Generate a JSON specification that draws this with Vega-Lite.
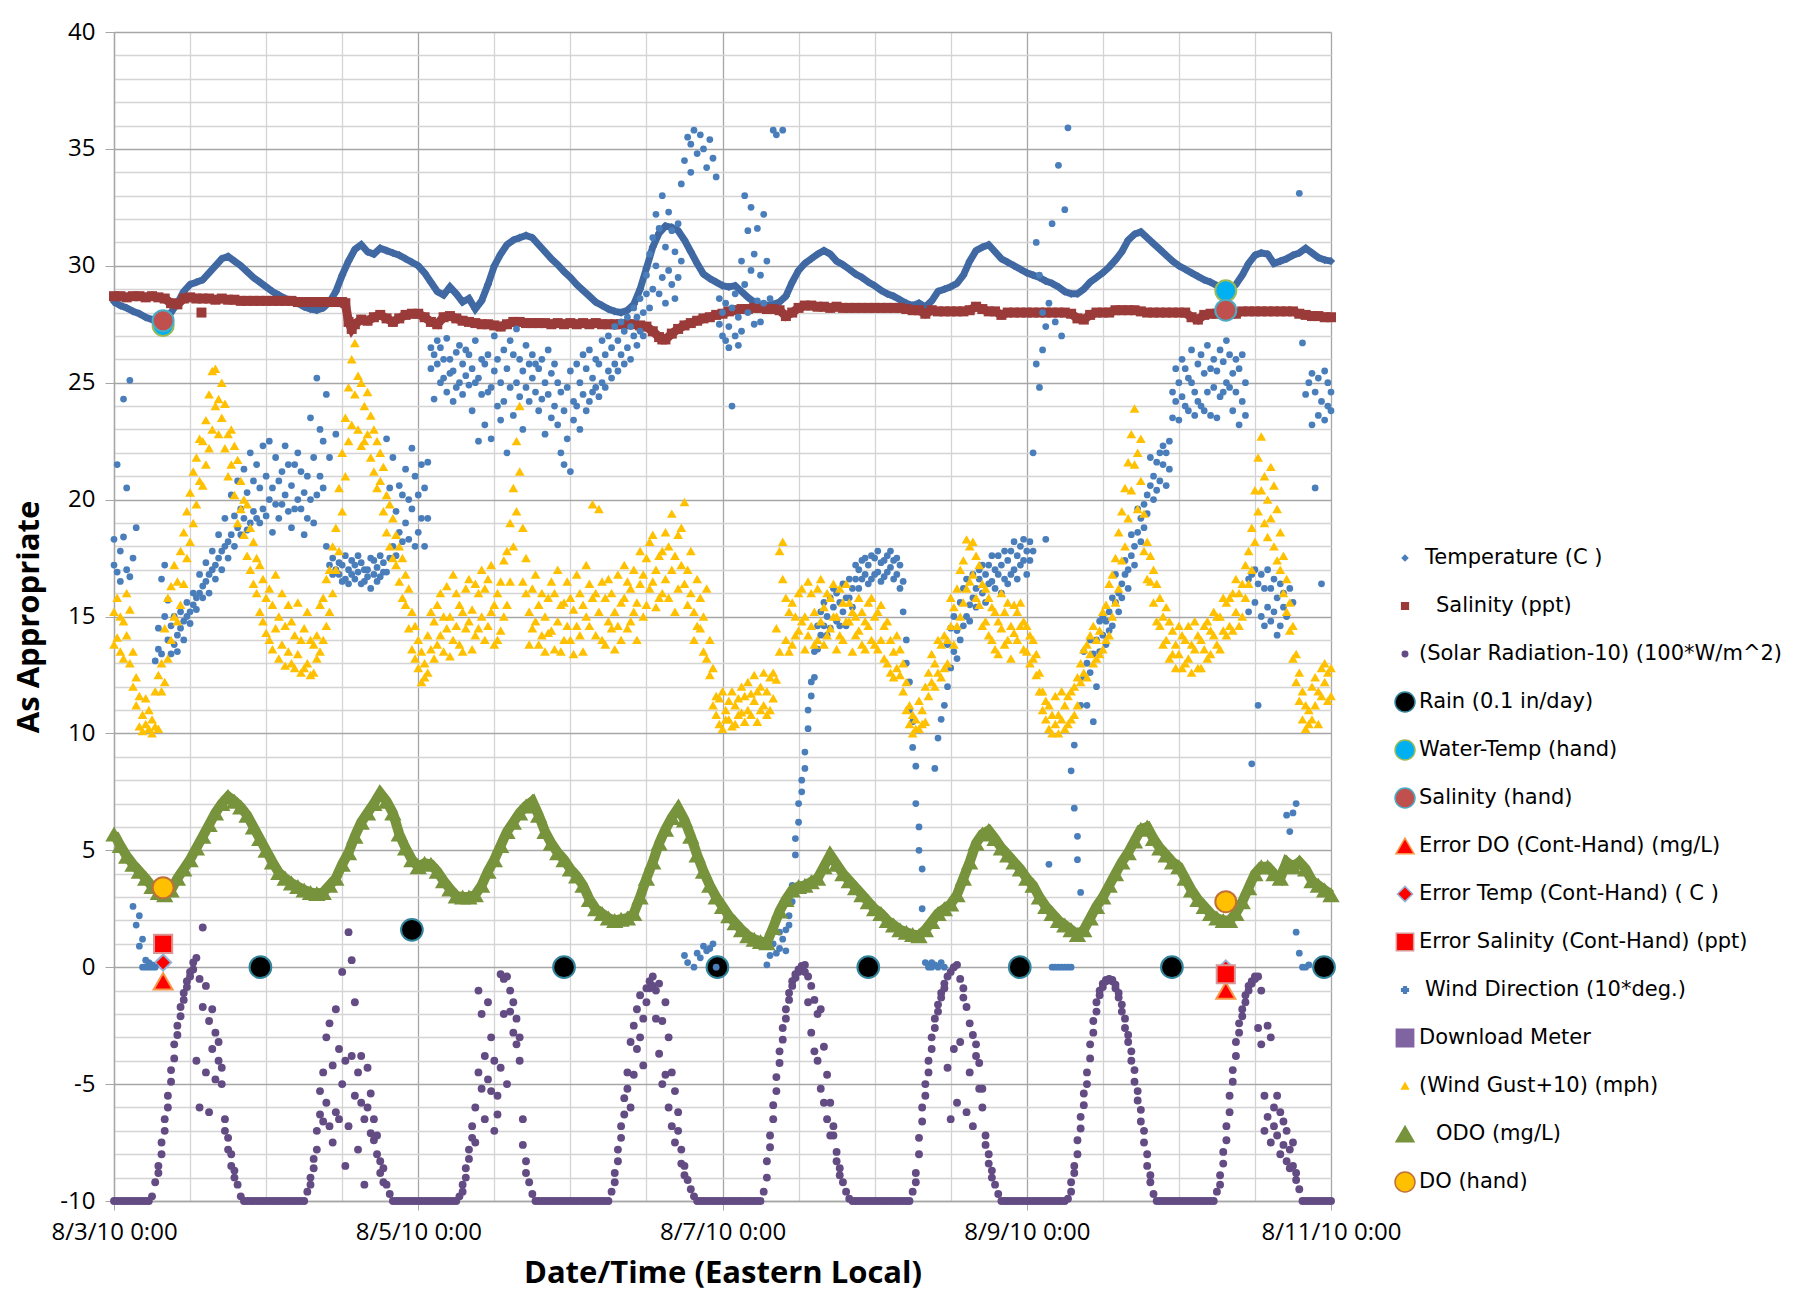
{
"$schema": "https://vega.github.io/schema/vega-lite/v6.json",
"autosize": {"type": "none"},
"padding": {"left": 114, "top": 32, "right": 464, "bottom": 99},
"width": 1217,
"height": 1169,
"background": "white",
"config": {
 "view": {"stroke": null},
 "legend": {"orient": "none", "legendX": 1291, "legendY": 526, "title": null, "labelFont": "DejaVu Sans", "labelFontSize": 21, "labelColor": "#000000", "rowPadding": 22, "gridAlign": "all", "symbolSize": 400, "symbolStrokeWidth": 1.5, "labelOffset": 23, "padding": 0, "labelLimit": 600}
},
"datasets": {
"d": [
{"h":0,"T":28.45,"S":28.7,"O":5.7,"R":-10,"G":15.2,"g":13.8,"W":17.2,"w":18.3},
{"h":0.5,"R":-10,"G":14.1,"g":15.8,"W":16.9,"w":21.5},
{"h":1,"T":28.3,"S":28.7,"O":5.2,"R":-10,"G":13.5,"g":15.0,"W":17.8,"w":16.5},
{"h":1.5,"R":-10,"G":14.8,"g":13.2,"W":18.4,"w":24.3},
{"h":2,"T":28.2,"S":28.65,"O":4.75,"R":-10,"G":16.0,"g":14.2,"W":17.0,"w":20.5},
{"h":2.5,"R":-10,"G":15.3,"g":13.0,"W":16.7,"w":25.1},
{"h":3,"T":28.05,"S":28.7,"O":4.4,"R":-10,"G":12.0,"g":13.5,"W":17.5,"w":2.6},
{"h":3.5,"R":-10,"G":11.2,"g":12.4,"W":18.8,"w":1.8},
{"h":4,"T":27.95,"S":28.7,"O":4.1,"R":-10,"G":10.3,"g":11.6,"W":2.2,"w":0.9},
{"h":4.5,"R":-10,"G":10.8,"g":10.1,"W":1.2,"w":0.0},
{"h":5,"T":27.8,"S":28.65,"O":3.8,"R":-10,"G":11.5,"g":10.4,"W":0.3,"w":0.0},
{"h":5.5,"R":-10,"G":10.2,"g":11.0,"W":0.0,"w":0.2},
{"h":6,"T":27.7,"S":28.7,"O":3.45,"R":-9.8,"G":10.6,"g":10.0,"W":0.1,"w":0.0},
{"h":6.5,"R":-9.2,"G":11.8,"g":10.3,"W":0.0,"w":13.1},
{"h":7,"T":27.65,"S":28.65,"O":3.2,"R":-8.5,"r":-8.8,"G":12.5,"g":10.2,"W":14.5,"w":13.6},
{"h":7.5,"R":-7.5,"r":-8.0,"G":13.0,"g":11.8,"W":16.6,"w":13.4},
{"h":8,"T":27.7,"S":28.6,"O":3.1,"R":-6.5,"r":-7.0,"G":14.5,"g":12.2,"W":15.0,"w":17.2},
{"h":8.5,"R":-5.5,"r":-6.0,"G":13.2,"g":15.8,"W":14.0,"w":15.7},
{"h":9,"T":28.0,"S":28.4,"O":3.3,"R":-4.4,"r":-4.9,"G":16.3,"g":14.0,"W":13.4,"w":14.6},
{"h":9.5,"R":-3.3,"r":-3.9,"G":15.0,"g":17.2,"W":13.8,"w":15.0},
{"h":10,"T":28.4,"S":28.35,"O":3.8,"R":-2.5,"r":-2.9,"G":16.5,"g":14.8,"W":14.2,"w":13.5},
{"h":10.5,"R":-1.7,"r":-2.1,"G":17.8,"g":15.5,"W":14.5,"w":15.2},
{"h":11,"T":28.9,"S":28.6,"O":4.2,"R":-1.1,"r":-1.4,"G":18.6,"g":16.4,"W":14.8,"w":14.0},
{"h":11.5,"R":-0.6,"r":-0.85,"G":17.5,"g":19.5,"W":15.0,"w":15.6},
{"h":12,"T":29.2,"S":28.65,"O":4.6,"R":-0.2,"r":-0.4,"G":20.3,"g":18.2,"W":15.2,"w":14.7},
{"h":12.5,"R":0.2,"r":-0.1,"G":19.0,"g":21.2,"W":15.5,"w":16.0},
{"h":13,"T":29.3,"S":28.6,"O":5.1,"R":0.4,"r":-4.0,"G":21.8,"g":19.8,"W":15.8,"w":15.3},
{"h":13.5,"R":-0.5,"r":-6.0,"G":20.8,"g":22.6,"W":16.0,"w":16.8},
{"h":13.8,"s":28.0},
{"h":14,"T":29.4,"S":28.6,"O":5.6,"R":-1.7,"r":1.7,"G":22.5,"g":20.6,"W":16.3,"w":15.8},
{"h":14.5,"R":-0.8,"r":-4.5,"G":23.4,"g":21.5,"W":16.5,"w":17.3},
{"h":15,"T":29.7,"S":28.6,"O":6.1,"R":-2.3,"r":-6.2,"G":24.5,"g":22.2,"W":16.8,"w":16.0},
{"h":15.5,"R":-3.5,"r":-1.8,"G":23.0,"g":25.5,"W":17.0,"w":17.8},
{"h":16,"T":30.0,"S":28.55,"O":6.6,"R":-2.8,"r":-4.8,"G":25.6,"g":24.0,"W":17.2,"w":16.6},
{"h":16.5,"R":-4.0,"r":-3.2,"G":24.3,"g":22.8,"W":17.5,"w":18.5},
{"h":17,"T":30.3,"S":28.6,"O":7.0,"R":-5.0,"r":-4.3,"G":23.5,"g":25.0,"W":17.8,"w":17.0},
{"h":17.5,"R":-6.5,"r":-7.0,"G":22.2,"g":24.1,"W":18.0,"w":19.2},
{"h":18,"T":30.4,"S":28.55,"O":7.3,"R":-7.3,"r":-7.8,"G":22.8,"g":21.0,"W":18.2,"w":17.5},
{"h":18.5,"R":-8.0,"r":-8.5,"G":21.5,"g":23.0,"W":18.5,"w":20.2},
{"h":19,"T":30.2,"S":28.55,"O":7.1,"R":-8.7,"r":-9.0,"G":20.2,"g":22.3,"W":18.0,"w":19.3},
{"h":19.5,"R":-9.3,"G":21.7,"g":19.0,"W":18.8,"w":20.8},
{"h":20,"T":30.0,"S":28.5,"O":6.85,"R":-9.8,"G":19.6,"g":20.8,"W":18.5,"w":19.6},
{"h":20.5,"R":-10,"G":18.5,"g":20.0,"W":19.2,"w":21.3},
{"h":21,"T":29.75,"S":28.5,"O":6.5,"R":-10,"G":19.8,"g":17.6,"W":18.7,"w":20.3},
{"h":21.5,"R":-10,"G":17.0,"g":18.8,"W":19.0,"w":22.0},
{"h":22,"T":29.5,"S":28.5,"O":6.0,"R":-10,"G":18.2,"g":16.4,"W":19.5,"w":20.8},
{"h":22.5,"R":-10,"G":16.0,"g":17.5,"W":19.2,"w":21.5},
{"h":23,"T":29.3,"S":28.5,"O":5.5,"R":-10,"G":15.2,"g":17.2,"W":19.0,"w":20.5},
{"h":23.5,"R":-10,"G":16.6,"g":14.8,"W":19.6,"w":22.3},
{"h":24,"T":29.1,"S":28.5,"O":5.0,"R":-10,"G":15.8,"g":14.3,"W":19.3,"w":21.0},
{"h":24.5,"R":-10,"G":14.0,"g":16.2,"W":20.0,"w":22.5},
{"h":25,"T":28.9,"S":28.5,"O":4.5,"R":-10,"G":15.5,"g":13.6,"W":20.5,"w":18.6},
{"h":25.5,"R":-10,"G":16.8,"g":14.5,"W":19.8,"w":21.8},
{"h":26,"T":28.75,"S":28.5,"O":4.05,"R":-10,"G":15.0,"g":13.2,"W":20.8,"w":19.2},
{"h":26.5,"R":-10,"G":13.8,"g":16.0,"W":21.2,"w":19.8},
{"h":27,"T":28.6,"S":28.5,"O":3.8,"R":-10,"G":14.6,"g":12.9,"W":20.2,"w":22.3},
{"h":27.5,"R":-10,"G":15.5,"g":13.5,"W":19.5,"w":21.5},
{"h":28,"T":28.5,"S":28.5,"O":3.6,"R":-10,"G":13.0,"g":14.8,"W":20.6,"w":18.8},
{"h":28.5,"R":-10,"G":14.2,"g":12.8,"W":21.5,"w":19.6},
{"h":29,"T":28.4,"S":28.45,"O":3.45,"R":-10,"G":13.4,"g":15.6,"W":20.0,"w":22.0},
{"h":29.5,"R":-10,"G":12.6,"g":14.0,"W":19.6,"w":21.2},
{"h":30,"T":28.25,"S":28.45,"O":3.3,"R":-10,"G":14.5,"g":12.8,"W":20.3,"w":18.5},
{"h":30.5,"R":-9.6,"G":13.0,"g":15.2,"W":21.0,"w":19.2},
{"h":31,"T":28.15,"S":28.45,"O":3.2,"R":-9.0,"r":-9.3,"G":12.5,"g":14.0,"W":20.0,"w":23.5},
{"h":31.5,"R":-8.2,"r":-8.6,"G":13.8,"g":12.6,"W":19.0,"w":21.8},
{"h":32,"T":28.1,"S":28.45,"O":3.15,"R":-7.0,"r":-7.8,"G":14.2,"g":13.2,"W":20.2,"w":25.2},
{"h":32.5,"R":-5.3,"r":-6.3,"G":13.5,"g":15.5,"W":21.0,"w":23.0},
{"h":33,"T":28.2,"S":28.45,"O":3.2,"R":-4.5,"r":-6.6,"G":15.8,"g":14.0,"W":20.5,"w":22.5},
{"h":33.5,"R":-3.0,"r":-5.8,"G":14.6,"g":16.6,"W":18.0,"w":24.5},
{"h":34,"T":28.45,"S":28.45,"O":3.5,"R":-6.8,"r":-2.4,"G":17.0,"g":15.2,"W":17.2,"w":21.8},
{"h":34.5,"R":-4.2,"r":-7.5,"G":16.0,"g":18.0,"W":17.5,"w":16.8},
{"h":35,"T":28.9,"S":28.45,"O":3.8,"R":-1.8,"r":-6.2,"G":18.8,"g":17.0,"W":17.0,"w":22.8},
{"h":35.5,"R":-6.5,"r":-3.5,"G":20.5,"g":17.8,"W":16.8,"w":17.3},
{"h":36,"T":29.6,"S":28.45,"O":4.4,"R":-0.2,"r":-5.0,"G":22.0,"g":19.5,"W":17.2,"w":16.5},
{"h":36.5,"S":28.4,"R":-4.0,"r":-8.5,"G":23.5,"g":21.0,"W":16.6,"w":17.6},
{"h":37,"T":30.2,"S":27.6,"O":4.9,"R":-6.8,"r":1.5,"G":24.8,"g":22.5,"W":17.0,"w":16.4},
{"h":37.5,"S":27.3,"R":0.3,"r":-3.8,"G":26.0,"g":23.2,"W":17.4,"w":16.8},
{"h":38,"T":30.7,"S":27.5,"O":5.6,"R":-1.5,"r":-5.5,"G":24.5,"g":26.7,"W":16.6,"w":17.2},
{"h":38.5,"R":-4.5,"r":-7.8,"G":23.0,"g":25.3,"W":16.9,"w":17.6},
{"h":39,"T":30.9,"S":27.7,"O":6.2,"R":-5.8,"r":-3.8,"G":25.0,"g":22.3,"W":17.3,"w":16.4},
{"h":39.5,"R":-6.5,"r":-9.3,"G":24.0,"g":22.5,"W":16.5,"w":17.0},
{"h":40,"T":30.6,"S":27.65,"O":6.6,"R":-4.3,"r":-6.0,"G":22.8,"g":24.6,"W":17.0,"w":16.7},
{"h":40.5,"R":-5.4,"r":-7.1,"G":23.6,"g":21.8,"W":17.5,"w":16.2},
{"h":41,"T":30.5,"S":27.8,"O":7.0,"R":-7.4,"r":-6.5,"G":21.2,"g":23.0,"W":16.8,"w":17.4},
{"h":41.5,"R":-8.0,"r":-7.2,"G":22.5,"g":20.5,"W":17.1,"w":16.5},
{"h":42,"T":30.75,"S":27.9,"O":7.45,"R":-8.3,"r":-8.8,"G":20.8,"g":22.0,"W":16.7,"w":17.6},
{"h":42.5,"R":-8.6,"r":-9.2,"G":19.5,"g":21.4,"W":17.3,"w":16.9},
{"h":43,"T":30.65,"S":27.75,"O":7.1,"R":-9.3,"G":20.2,"g":18.6,"W":16.9,"w":22.6},
{"h":43.5,"R":-9.7,"G":18.0,"g":19.8,"W":17.5,"w":20.5},
{"h":44,"T":30.55,"S":27.6,"O":6.6,"R":-10,"G":19.2,"g":17.5,"W":18.0,"w":21.8},
{"h":44.5,"R":-10,"G":17.2,"g":18.5,"W":19.5,"w":17.6},
{"h":45,"T":30.45,"S":27.75,"O":5.7,"R":-10,"G":16.5,"g":18.0,"W":18.6,"w":20.6},
{"h":45.5,"R":-10,"G":17.5,"g":15.8,"W":20.2,"w":18.2},
{"h":46,"T":30.3,"S":27.9,"O":5.1,"R":-10,"G":15.5,"g":16.8,"W":19.0,"w":21.3},
{"h":46.5,"R":-10,"G":14.5,"g":16.2,"W":18.3,"w":20.0},
{"h":47,"T":30.15,"S":27.95,"O":4.6,"R":-10,"G":15.2,"g":13.6,"W":19.6,"w":22.2},
{"h":47.5,"R":-10,"G":13.2,"g":14.6,"W":18.0,"w":21.0},
{"h":48,"T":30.0,"S":27.95,"O":4.3,"R":-10,"G":12.8,"g":14.0,"W":20.2,"w":18.6},
{"h":48.5,"R":-10,"G":12.2,"g":13.5,"W":21.5,"w":19.2},
{"h":49,"T":29.7,"S":27.8,"O":4.45,"R":-10,"G":13.0,"g":12.4,"W":20.5,"w":18.0},
{"h":49.5,"R":-10,"G":14.2,"g":12.6,"W":19.2,"w":21.6},
{"h":50,"T":29.3,"S":27.6,"O":4.4,"R":-10,"G":13.6,"g":15.2,"W":25.6,"w":26.5},
{"h":50.5,"R":-10,"G":14.8,"g":13.2,"W":26.2,"w":24.3},
{"h":51,"T":28.9,"S":27.5,"O":4.1,"R":-10,"G":15.5,"g":13.8,"W":25.8,"w":26.8},
{"h":51.5,"R":-10,"G":14.2,"g":16.0,"W":26.5,"w":25.0},
{"h":52,"T":28.75,"S":27.8,"O":3.7,"R":-10,"G":13.5,"g":15.0,"W":25.2,"w":26.0},
{"h":52.5,"R":-10,"G":16.3,"g":14.5,"W":24.6,"w":26.9},
{"h":53,"T":29.1,"S":27.85,"O":3.35,"R":-10,"G":15.0,"g":13.3,"W":26.0,"w":25.4},
{"h":53.5,"R":-10,"G":14.0,"g":16.8,"W":25.5,"w":24.2},
{"h":54,"T":28.8,"S":27.75,"O":3.05,"R":-10,"G":16.0,"g":14.6,"W":26.3,"w":24.8},
{"h":54.5,"R":-9.8,"G":13.8,"g":15.5,"W":25.0,"w":26.6},
{"h":55,"T":28.45,"S":27.65,"O":3.0,"R":-9.3,"r":-9.6,"G":15.2,"g":13.5,"W":25.8,"w":24.5},
{"h":55.5,"R":-8.6,"r":-9.0,"G":14.5,"g":16.2,"W":26.4,"w":25.3},
{"h":56,"T":28.6,"S":27.6,"O":3.0,"R":-7.8,"r":-8.2,"G":16.6,"g":14.8,"W":24.9,"w":26.2},
{"h":56.5,"R":-6.8,"r":-7.3,"G":15.3,"g":13.6,"W":25.6,"w":23.8},
{"h":57,"T":28.15,"S":27.55,"O":3.1,"R":-6.0,"r":-7.5,"G":14.2,"g":16.4,"W":26.8,"w":25.0},
{"h":57.5,"R":-4.5,"r":-1.0,"G":16.0,"g":14.5,"W":25.2,"w":22.5},
{"h":58,"T":28.5,"S":27.5,"O":3.5,"R":-2.0,"r":-5.2,"G":15.0,"g":17.0,"W":24.5,"w":26.0},
{"h":58.5,"R":-3.8,"r":-6.5,"G":16.2,"g":14.0,"W":25.8,"w":23.2},
{"h":59,"T":29.2,"S":27.5,"O":4.1,"R":-4.8,"r":-1.5,"G":14.6,"g":16.6,"W":26.2,"w":24.6},
{"h":59.5,"R":-5.3,"r":-3.0,"G":17.2,"g":15.2,"W":24.8,"w":22.6},
{"h":60,"T":30.0,"S":27.45,"O":4.6,"R":-4.0,"r":-7.0,"G":15.5,"g":13.8,"W":25.5,"w":27.0},
{"h":60.5,"R":-5.5,"r":-6.3,"G":14.0,"g":16.0,"W":26.0,"w":24.0},
{"h":61,"T":30.5,"S":27.4,"O":5.2,"R":-4.3,"r":-0.3,"G":16.5,"g":14.4,"W":25.0,"w":23.4},
{"h":61.5,"R":-0.5,"r":-2.0,"G":15.0,"g":17.4,"W":24.2,"w":26.4},
{"h":62,"T":30.9,"S":27.5,"O":5.8,"R":-0.4,"r":-5.0,"G":17.8,"g":15.5,"W":25.6,"w":22.0},
{"h":62.5,"R":-1.0,"r":-1.9,"G":16.5,"g":19.0,"W":24.8,"w":26.8},
{"h":63,"T":31.1,"S":27.6,"O":6.2,"R":-1.5,"r":-2.8,"G":20.5,"g":18.0,"W":26.2,"w":23.6},
{"h":63.5,"R":-2.2,"r":-3.3,"G":22.5,"g":19.5,"W":25.0,"w":27.3},
{"h":64,"T":31.2,"S":27.6,"O":6.6,"R":-3.0,"r":-4.0,"G":24.0,"g":21.2,"W":24.4,"w":26.0},
{"h":64.5,"R":-6.5,"r":-7.6,"G":18.8,"g":16.5,"W":25.5,"w":23.0},
{"h":65,"T":31.3,"S":27.55,"O":6.9,"R":-8.3,"r":-8.8,"G":16.0,"g":17.5,"W":24.8,"w":26.6},
{"h":65.5,"R":-9.2,"G":15.2,"g":13.8,"W":25.8,"w":24.2},
{"h":66,"T":31.2,"S":27.55,"O":7.1,"R":-9.7,"G":14.5,"g":16.2,"W":25.2,"w":26.2},
{"h":66.5,"R":-10,"G":16.8,"g":14.8,"W":24.6,"w":25.8},
{"h":67,"T":30.9,"S":27.55,"O":6.5,"R":-10,"G":15.5,"g":13.8,"W":25.6,"w":23.8},
{"h":67.5,"R":-10,"G":14.2,"g":16.0,"W":24.3,"w":26.0},
{"h":68,"T":30.6,"S":27.55,"O":5.8,"R":-10,"G":13.5,"g":15.0,"W":25.0,"w":22.8},
{"h":68.5,"R":-10,"G":15.8,"g":14.3,"W":24.5,"w":26.4},
{"h":69,"T":30.3,"S":27.5,"O":5.3,"R":-10,"G":14.4,"g":16.5,"W":25.4,"w":23.5},
{"h":69.5,"R":-10,"G":16.0,"g":13.6,"W":24.0,"w":25.8},
{"h":70,"T":30.05,"S":27.55,"O":4.9,"R":-10,"G":14.8,"g":17.0,"W":23.2,"w":25.0},
{"h":70.5,"R":-10,"G":13.5,"g":15.5,"W":22.0,"w":24.6},
{"h":71,"T":29.75,"S":27.5,"O":4.6,"R":-10,"G":15.6,"g":14.0,"W":21.5,"w":23.8},
{"h":71.5,"R":-10,"G":16.5,"g":14.6,"W":22.6,"w":24.8},
{"h":72,"T":29.5,"S":27.55,"O":4.2,"R":-10,"G":14.0,"g":15.8,"W":21.2,"w":25.5},
{"h":72.5,"R":-10,"G":15.3,"g":13.4,"W":23.4,"w":24.2},
{"h":73,"T":29.2,"S":27.5,"O":3.9,"R":-10,"G":16.8,"g":14.6,"W":24.0,"w":25.8},
{"h":73.5,"R":-10,"G":14.2,"g":16.0,"W":25.0,"w":23.0},
{"h":74,"T":28.95,"S":27.55,"O":3.5,"R":-10,"G":15.5,"g":13.5,"W":24.5,"w":26.2},
{"h":74.5,"R":-10,"G":17.2,"g":15.0,"W":25.6,"w":23.8},
{"h":75,"T":28.7,"S":27.5,"O":2.9,"R":-10,"G":14.6,"g":16.4,"W":24.2,"w":26.4},
{"h":75.5,"R":-10,"G":19.8,"g":15.8,"W":25.2,"w":24.6},
{"h":76,"T":28.45,"S":27.55,"O":2.5,"R":-10,"G":16.0,"g":14.2,"W":24.8,"w":26.0},
{"h":76.5,"R":-10,"G":15.2,"g":19.6,"W":25.8,"w":24.4},
{"h":77,"T":28.3,"S":27.5,"O":2.3,"R":-10,"G":14.0,"g":16.5,"W":25.0,"w":26.8},
{"h":77.5,"R":-10,"G":15.8,"g":13.8,"W":26.2,"w":24.8},
{"h":78,"T":28.15,"S":27.5,"O":2.1,"R":-10,"G":16.6,"g":14.8,"W":25.5,"w":27.0},
{"h":78.5,"R":-9.6,"G":14.5,"g":16.0,"W":26.5,"w":25.2},
{"h":79,"T":28.05,"S":27.5,"O":2.0,"R":-8.8,"r":-9.2,"G":15.2,"g":13.6,"W":25.8,"w":27.4},
{"h":79.5,"R":-7.8,"r":-8.3,"G":16.8,"g":14.6,"W":26.8,"w":25.5},
{"h":80,"T":28.0,"S":27.5,"O":2.05,"R":-6.8,"r":-7.3,"G":14.0,"g":15.6,"W":26.2,"w":27.6},
{"h":80.5,"R":-5.6,"r":-6.3,"G":15.8,"g":17.2,"W":27.2,"w":25.8},
{"h":81,"T":28.1,"S":27.5,"O":2.1,"R":-4.5,"r":-5.2,"G":16.5,"g":14.5,"W":26.5,"w":27.8},
{"h":81.5,"R":-3.2,"r":-6.0,"G":14.8,"g":16.2,"W":27.4,"w":26.0},
{"h":82,"T":28.35,"S":27.5,"O":2.3,"R":-2.5,"r":-4.6,"G":17.0,"g":15.2,"W":27.0,"w":28.2},
{"h":82.5,"R":-3.5,"r":-1.8,"G":15.6,"g":14.0,"W":27.8,"w":26.6},
{"h":83,"T":29.0,"S":27.45,"O":3.0,"R":-1.2,"r":-3.0,"G":16.4,"g":17.8,"W":27.2,"w":28.6},
{"h":83.5,"R":-4.2,"r":-2.2,"G":15.0,"g":16.8,"W":28.0,"w":27.0},
{"h":84,"T":29.9,"S":27.4,"O":3.8,"R":-0.9,"r":-1.5,"G":17.5,"g":15.5,"W":28.8,"w":29.6},
{"h":84.5,"R":-0.6,"r":-0.9,"G":16.2,"g":18.2,"W":30.5,"w":28.2},
{"h":85,"T":30.8,"S":27.2,"O":4.5,"R":-0.4,"r":-0.8,"G":18.5,"g":16.5,"W":31.2,"w":29.0},
{"h":85.5,"R":-1.0,"r":-2.2,"G":17.0,"g":15.4,"W":30.0,"w":32.2},
{"h":86,"T":31.4,"S":26.95,"O":5.3,"R":-0.7,"r":-3.7,"G":15.8,"g":17.6,"W":31.6,"w":28.8},
{"h":86.5,"S":26.85,"R":-2.3,"r":-5.0,"G":17.8,"g":16.0,"W":29.5,"w":33.0},
{"h":87,"T":31.7,"S":26.85,"O":5.9,"R":-1.5,"r":-4.6,"G":16.6,"g":18.6,"W":30.8,"w":28.4},
{"h":87.5,"R":-3.0,"r":-6.0,"G":18.0,"g":15.8,"W":32.3,"w":29.8},
{"h":88,"T":31.65,"S":27.1,"O":6.4,"R":-4.5,"r":-6.8,"G":19.4,"g":17.0,"W":29.2,"w":31.5},
{"h":88.5,"R":-5.3,"r":-7.5,"G":17.6,"g":15.2,"W":30.6,"w":28.6},
{"h":89,"T":31.5,"S":27.3,"O":6.8,"R":-7.0,"r":-6.2,"G":16.2,"g":18.5,"W":31.8,"w":29.5},
{"h":89.5,"R":-7.8,"r":-8.4,"G":18.8,"g":17.2,"W":30.2,"w":33.5},
{"h":90,"T":31.1,"S":27.45,"O":6.3,"R":-8.5,"r":-8.9,"G":19.9,"g":16.4,"W":34.5,"w":0.5},
{"h":90.5,"R":-9.1,"G":17.0,"g":15.5,"W":35.5,"w":0.2},
{"h":91,"T":30.6,"S":27.55,"O":5.6,"R":-9.5,"G":16.0,"g":17.8,"W":35.2,"w":34.0},
{"h":91.5,"R":-9.8,"G":15.2,"g":14.0,"W":35.8,"w":0.0},
{"h":92,"T":30.1,"S":27.65,"O":4.8,"R":-10,"G":16.6,"g":14.6,"W":34.8,"w":0.6},
{"h":92.5,"R":-10,"G":14.5,"g":15.8,"W":35.6,"w":0.4},
{"h":93,"T":29.65,"S":27.75,"O":4.1,"R":-10,"G":15.0,"g":13.5,"W":35.0,"w":0.9},
{"h":93.5,"R":-10,"G":13.2,"g":16.2,"W":34.2,"w":0.7},
{"h":94,"T":29.45,"S":27.8,"O":3.5,"R":-10,"G":12.5,"g":14.0,"W":35.4,"w":0.8},
{"h":94.5,"R":-10,"G":11.2,"g":12.8,"W":34.6,"w":1.0},
{"h":95,"T":29.3,"S":27.9,"O":3.0,"R":-10,"G":10.8,"g":11.6,"W":33.8,"w":0.0},
{"h":95.5,"R":-10,"G":11.5,"g":10.4,"W":27.5,"w":28.6},
{"h":96,"T":29.15,"S":27.95,"O":2.6,"R":-10,"G":10.2,"g":11.8,"W":28.0,"w":27.0},
{"h":96.5,"R":-10,"G":11.0,"g":10.6,"W":26.8,"w":28.4},
{"h":97,"T":29.1,"S":28.05,"O":2.2,"R":-10,"G":10.6,"g":11.4,"W":27.4,"w":26.5},
{"h":97.5,"R":-10,"G":11.8,"g":10.3,"W":28.2,"w":24.0},
{"h":98,"T":29.15,"S":28.1,"O":1.9,"R":-10,"G":10.4,"g":11.2,"W":27.0,"w":28.8},
{"h":98.5,"R":-10,"G":11.5,"g":10.8,"W":26.6,"w":27.8},
{"h":99,"T":28.9,"S":28.15,"O":1.6,"R":-10,"G":10.9,"g":12.0,"W":30.2,"w":27.2},
{"h":99.5,"R":-10,"G":11.6,"g":10.5,"W":29.2,"w":33.0},
{"h":100,"T":28.65,"S":28.15,"O":1.35,"R":-10,"G":12.2,"g":11.0,"W":31.5,"w":28.0},
{"h":100.5,"R":-10,"G":10.8,"g":11.7,"W":29.8,"w":32.5},
{"h":101,"T":28.45,"S":28.2,"O":1.2,"R":-10,"G":11.4,"g":12.5,"W":27.5,"w":30.5},
{"h":101.5,"R":-10,"G":10.5,"g":11.8,"W":28.5,"w":31.6},
{"h":102,"T":28.3,"S":28.2,"O":1.1,"R":-10,"G":12.0,"g":11.0,"W":29.6,"w":27.6},
{"h":102.5,"R":-9.6,"G":11.2,"g":12.6,"W":32.2,"w":28.4},
{"h":103,"T":28.3,"S":28.15,"O":1.05,"R":-8.3,"r":-9.0,"G":11.8,"g":10.8,"W":30.2,"w":0.1},
{"h":103.5,"R":-7.2,"r":-7.7,"G":11.0,"g":12.4,"W":28.6,"w":0.5},
{"h":104,"T":28.35,"S":28.15,"O":1.7,"R":-5.9,"r":-6.5,"G":12.6,"g":11.5,"W":35.8,"w":1.0},
{"h":104.5,"R":-4.7,"r":-5.3,"G":14.5,"g":12.3,"W":35.6,"w":0.6},
{"h":105,"T":28.45,"S":28.1,"O":2.4,"R":-3.6,"r":-4.1,"G":17.8,"g":13.5,"W":1.5,"w":0.8},
{"h":105.5,"R":-2.6,"r":-3.1,"G":16.6,"g":18.2,"W":1.2,"w":35.8},
{"h":106,"T":28.7,"S":27.85,"O":2.9,"R":-1.8,"r":-2.2,"G":14.0,"g":15.8,"W":1.6,"w":0.7},
{"h":106.5,"R":-1.1,"r":-1.4,"G":15.2,"g":13.5,"W":1.8,"w":2.2},
{"h":107,"T":29.3,"S":28.0,"O":3.3,"R":-0.6,"r":-0.8,"G":13.8,"g":15.6,"W":2.8,"w":3.5},
{"h":107.5,"R":-0.3,"r":-0.45,"G":15.0,"g":14.2,"W":4.8,"w":5.5},
{"h":108,"T":29.8,"S":28.2,"O":3.45,"R":-0.1,"r":-0.2,"G":14.4,"g":16.0,"W":6.2,"w":7.0},
{"h":108.5,"R":0.05,"r":-0.05,"G":16.2,"g":14.8,"W":8.0,"w":7.5},
{"h":109,"T":30.1,"S":28.3,"O":3.5,"R":0.1,"r":-0.2,"G":15.0,"g":13.6,"W":9.2,"w":8.5},
{"h":109.5,"R":-0.4,"r":-1.5,"G":14.2,"g":16.5,"W":11.0,"w":10.2},
{"h":110,"T":30.3,"S":28.3,"O":3.65,"R":-0.8,"r":-2.8,"G":16.0,"g":14.6,"W":12.2,"w":11.6},
{"h":110.5,"R":-1.4,"r":-3.6,"G":15.2,"g":13.8,"W":12.4,"w":13.5},
{"h":111,"T":30.5,"S":28.25,"O":3.8,"R":-2.0,"r":-4.0,"G":14.0,"g":16.2,"W":13.6,"w":14.6},
{"h":111.5,"R":-1.8,"r":-5.2,"G":16.6,"g":14.8,"W":14.2,"w":15.2},
{"h":112,"T":30.65,"S":28.25,"O":4.3,"R":-3.4,"r":-5.8,"G":15.4,"g":13.8,"W":14.6,"w":15.6},
{"h":112.5,"R":-4.6,"r":-6.5,"G":14.2,"g":16.0,"W":15.0,"w":14.2},
{"h":113,"T":30.5,"S":28.2,"O":4.8,"R":-5.8,"r":-7.2,"G":15.8,"g":14.5,"W":14.5,"w":15.8},
{"h":113.5,"R":-7.2,"r":-6.8,"G":16.4,"g":15.0,"W":15.4,"w":16.2},
{"h":114,"T":30.2,"S":28.25,"O":4.4,"R":-7.9,"r":-8.3,"G":15.0,"g":13.6,"W":14.8,"w":16.0},
{"h":114.5,"R":-8.6,"r":-8.9,"G":14.2,"g":16.2,"W":15.6,"w":14.6},
{"h":115,"T":30.05,"S":28.2,"O":4.0,"R":-9.2,"G":15.6,"g":14.0,"W":15.2,"w":16.4},
{"h":115.5,"R":-9.6,"G":16.4,"g":14.8,"W":14.6,"w":15.8},
{"h":116,"T":29.85,"S":28.2,"O":3.7,"R":-9.9,"G":14.8,"g":15.6,"W":15.8,"w":16.6},
{"h":116.5,"R":-10,"G":13.5,"g":15.2,"W":16.2,"w":15.4},
{"h":117,"T":29.65,"S":28.2,"O":3.4,"R":-10,"G":15.0,"g":14.2,"W":16.6,"w":17.2},
{"h":117.5,"R":-10,"G":14.4,"g":15.8,"W":17.0,"w":16.2},
{"h":118,"T":29.5,"S":28.2,"O":3.1,"R":-10,"G":15.2,"g":13.8,"W":17.4,"w":16.6},
{"h":118.5,"R":-10,"G":13.6,"g":14.8,"W":16.8,"w":17.5},
{"h":119,"T":29.3,"S":28.2,"O":2.8,"R":-10,"G":14.6,"g":15.6,"W":17.2,"w":16.4},
{"h":119.5,"R":-10,"G":15.8,"g":14.0,"W":16.6,"w":17.6},
{"h":120,"T":29.15,"S":28.2,"O":2.5,"R":-10,"G":13.8,"g":15.0,"W":17.5,"w":16.8},
{"h":120.5,"R":-10,"G":15.2,"g":13.6,"W":16.9,"w":17.8},
{"h":121,"T":28.95,"S":28.2,"O":2.3,"R":-10,"G":14.0,"g":15.5,"W":17.3,"w":16.5},
{"h":121.5,"R":-10,"G":13.2,"g":14.6,"W":16.7,"w":17.4},
{"h":122,"T":28.8,"S":28.2,"O":2.0,"R":-10,"G":14.8,"g":13.0,"W":17.6,"w":16.9},
{"h":122.5,"R":-10,"G":12.6,"g":14.0,"W":17.1,"w":17.8},
{"h":123,"T":28.7,"S":28.2,"O":1.8,"R":-10,"G":13.5,"g":12.4,"W":17.4,"w":16.6},
{"h":123.5,"R":-10,"G":14.2,"g":12.8,"W":16.8,"w":17.5},
{"h":124,"T":28.55,"S":28.2,"O":1.6,"R":-10,"G":12.5,"g":13.6,"W":17.2,"w":16.2},
{"h":124.5,"R":-10,"G":13.0,"g":11.8,"W":16.5,"w":15.2},
{"h":125,"T":28.4,"S":28.15,"O":1.5,"R":-10,"G":11.0,"g":12.2,"W":14.0,"w":13.0},
{"h":125.5,"R":-10,"G":10.4,"g":11.2,"W":12.2,"w":11.0},
{"h":126,"T":28.3,"S":28.1,"O":1.4,"R":-9.6,"G":10.0,"g":10.8,"W":10.5,"w":9.4},
{"h":126.5,"R":-8.8,"r":-9.2,"G":10.6,"g":10.2,"W":8.6,"w":7.0},
{"h":127,"T":28.4,"S":28.1,"O":1.35,"R":-7.3,"r":-8.0,"G":10.2,"g":11.4,"W":6.0,"w":5.0},
{"h":127.5,"R":-6.0,"r":-6.6,"G":11.0,"g":10.4,"W":4.2,"w":2.5},
{"h":128,"T":28.25,"S":27.95,"O":1.6,"R":-5.0,"r":-5.5,"G":10.5,"g":12.0,"W":1.6,"w":0.2},
{"h":128.5,"R":-4.0,"r":-4.5,"G":11.6,"g":12.6,"W":0.0,"w":0.1},
{"h":129,"T":28.5,"S":28.1,"O":1.95,"R":-3.0,"r":-3.5,"G":12.2,"g":13.4,"W":0.0,"w":0.2},
{"h":129.5,"R":-2.2,"r":-2.6,"G":13.0,"g":12.0,"W":0.1,"w":8.5},
{"h":130,"T":28.9,"S":28.05,"O":2.3,"R":-1.6,"r":-1.9,"G":12.6,"g":14.0,"W":0.0,"w":9.8},
{"h":130.5,"R":-1.1,"r":-1.3,"G":13.8,"g":12.4,"W":0.2,"w":10.6},
{"h":131,"T":29.0,"S":28.05,"O":2.5,"R":-0.7,"r":-0.9,"G":12.8,"g":14.2,"W":11.2,"w":0.0},
{"h":131.5,"R":-0.4,"r":-4.3,"G":14.0,"g":13.0,"W":12.0,"w":13.8},
{"h":132,"T":29.1,"S":28.05,"O":2.7,"R":-0.2,"r":-6.5,"G":14.6,"g":15.8,"W":12.8,"w":14.5},
{"h":132.5,"R":0.0,"r":-3.5,"G":15.4,"g":13.8,"W":13.5,"w":15.0},
{"h":133,"T":29.25,"S":28.05,"O":3.1,"R":0.1,"r":-5.8,"G":16.2,"g":14.6,"W":13.2,"w":14.4},
{"h":133.5,"R":-0.5,"r":-3.2,"G":15.0,"g":17.0,"W":14.0,"w":15.6},
{"h":134,"T":29.6,"S":28.05,"O":3.8,"R":-0.9,"r":-1.3,"G":17.4,"g":15.6,"W":14.6,"w":16.2},
{"h":134.5,"R":-1.7,"r":-6.2,"G":16.2,"g":18.3,"W":15.0,"w":16.6},
{"h":135,"T":30.2,"S":28.1,"O":4.5,"R":-2.4,"r":-4.5,"G":18.0,"g":16.5,"W":15.5,"w":14.8},
{"h":135.5,"R":-2.9,"r":-6.8,"G":16.8,"g":18.2,"W":15.8,"w":16.8},
{"h":136,"T":30.65,"S":28.25,"O":5.3,"R":-3.3,"r":-3.8,"G":17.6,"g":15.8,"W":16.2,"w":15.4},
{"h":136.5,"R":-4.1,"r":-5.2,"G":15.5,"g":17.2,"W":16.6,"w":17.0},
{"h":137,"T":30.8,"S":28.15,"O":5.7,"R":-5.2,"r":-6.0,"G":16.4,"g":14.6,"W":16.0,"w":17.2},
{"h":137.5,"R":-7.2,"r":-7.6,"G":14.8,"g":16.2,"W":16.8,"w":15.6},
{"h":138,"T":30.9,"S":28.05,"O":5.85,"R":-8.0,"r":-8.4,"G":15.8,"g":14.2,"W":17.2,"w":16.4},
{"h":138.5,"R":-8.7,"r":-9.0,"G":14.0,"g":15.4,"W":16.5,"w":17.6},
{"h":139,"T":30.6,"S":28.05,"O":5.5,"R":-9.3,"G":15.2,"g":13.6,"W":17.0,"w":16.2},
{"h":139.5,"R":-9.7,"G":13.4,"g":14.8,"W":17.6,"w":16.8},
{"h":140,"T":30.3,"S":27.9,"O":5.1,"R":-10,"G":14.5,"g":16.0,"W":17.2,"w":16.0},
{"h":140.5,"R":-10,"G":13.8,"g":15.2,"W":16.6,"w":17.8},
{"h":141,"T":30.15,"S":28.0,"O":4.8,"R":-10,"G":15.6,"g":14.0,"W":17.4,"w":16.4},
{"h":141.5,"R":-10,"G":14.6,"g":13.2,"W":17.8,"w":16.8},
{"h":142,"T":30.0,"S":28.0,"O":4.5,"R":-10,"G":15.5,"g":14.3,"W":17.0,"w":18.2},
{"h":142.5,"R":-10,"G":14.0,"g":15.2,"W":17.6,"w":16.6},
{"h":143,"T":29.85,"S":28.0,"O":4.2,"R":-10,"G":15.6,"g":14.6,"W":18.0,"w":17.2},
{"h":143.5,"R":-10,"G":14.8,"g":13.6,"W":17.4,"w":18.3},
{"h":144,"T":29.7,"S":28.0,"O":3.8,"R":-10,"G":13.5,"g":14.6,"W":17.8,"w":16.8},
{"h":144.5,"R":-10,"G":14.2,"g":13.0,"W":18.2,"w":17.4},
{"h":145,"T":29.6,"S":28.0,"O":3.5,"R":-10,"G":13.2,"g":14.0,"W":22.0,"w":17.8},
{"h":145.5,"R":-10,"G":12.5,"g":13.4,"W":31.0,"w":25.8},
{"h":146,"T":29.5,"S":28.0,"O":3.0,"R":-10,"G":11.8,"g":12.6,"W":29.6,"w":24.8},
{"h":146.5,"R":-10,"G":11.0,"g":11.8,"W":28.0,"w":26.4},
{"h":147,"T":29.35,"S":28.0,"O":2.6,"R":-10,"G":10.6,"g":11.4,"W":18.3,"w":27.4},
{"h":147.5,"R":-10,"G":10.2,"g":11.2,"W":28.4,"w":4.4},
{"h":148,"T":29.25,"S":28.0,"O":2.3,"R":-10,"G":10.8,"g":10.0,"W":0.0,"w":31.8},
{"h":148.5,"R":-10,"G":11.6,"g":10.4,"W":0.0,"w":27.6},
{"h":149,"T":29.1,"S":28.0,"O":2.0,"R":-10,"G":10.0,"g":10.8,"W":34.3,"w":0.0},
{"h":149.5,"R":-10,"G":10.6,"g":11.8,"W":0.0,"w":27.0},
{"h":150,"T":28.9,"S":28.0,"O":1.8,"R":-10,"G":11.2,"g":10.2,"W":0.0,"w":32.4},
{"h":150.5,"R":-9.9,"G":10.4,"g":11.6,"W":35.9,"w":0.0},
{"h":151,"T":28.8,"S":27.95,"O":1.6,"R":-9.2,"r":-9.6,"G":11.8,"g":10.6,"W":0.0,"w":8.4},
{"h":151.5,"R":-8.5,"r":-8.8,"G":10.8,"g":12.0,"W":9.5,"w":6.8},
{"h":152,"T":28.8,"S":27.75,"O":1.4,"R":-7.4,"r":-8.0,"G":12.4,"g":11.2,"W":5.6,"w":4.6},
{"h":152.5,"R":-6.4,"r":-6.9,"G":13.0,"g":12.2,"W":3.2,"w":11.2},
{"h":153,"T":29.0,"S":27.7,"O":1.6,"R":-5.4,"r":-5.9,"G":12.6,"g":13.6,"W":12.4,"w":13.5},
{"h":153.5,"R":-4.5,"r":-5.0,"G":13.8,"g":12.4,"W":11.2,"w":13.0},
{"h":154,"T":29.3,"S":27.9,"O":2.1,"R":-3.3,"r":-3.9,"G":13.4,"g":14.2,"W":12.6,"w":14.0},
{"h":154.5,"R":-2.3,"r":-2.8,"G":14.6,"g":13.0,"W":13.4,"w":10.5},
{"h":155,"T":29.5,"S":28.0,"O":2.6,"R":-1.5,"r":-1.9,"G":13.2,"g":14.0,"W":14.0,"w":12.0},
{"h":155.5,"R":-1.0,"r":-1.2,"G":14.4,"g":13.4,"W":13.5,"w":14.8},
{"h":156,"T":29.7,"S":28.0,"O":3.0,"R":-0.7,"r":-0.85,"G":13.6,"g":15.2,"W":14.2,"w":15.0},
{"h":156.5,"R":-0.55,"r":-0.6,"G":15.5,"g":14.0,"W":14.8,"w":13.8},
{"h":157,"T":29.95,"S":28.0,"O":3.5,"R":-0.5,"r":-0.52,"G":14.2,"g":16.4,"W":15.2,"w":14.4},
{"h":157.5,"R":-0.6,"r":-0.55,"G":16.8,"g":15.0,"W":14.6,"w":15.8},
{"h":158,"T":30.25,"S":28.1,"O":4.0,"R":-0.9,"r":-0.75,"G":17.5,"g":15.6,"W":15.6,"w":16.8},
{"h":158.5,"R":-1.3,"r":-1.1,"G":16.2,"g":18.6,"W":16.0,"w":15.2},
{"h":159,"T":30.6,"S":28.1,"O":4.5,"R":-1.9,"r":-1.6,"G":19.5,"g":17.4,"W":16.4,"w":15.8},
{"h":159.5,"R":-2.6,"r":-2.2,"G":18.0,"g":20.5,"W":16.8,"w":17.4},
{"h":160,"T":31.1,"S":28.1,"O":4.9,"R":-3.2,"r":-2.9,"G":21.6,"g":19.2,"W":17.0,"w":16.2},
{"h":160.5,"R":-4.0,"r":-3.6,"G":22.8,"g":20.4,"W":17.6,"w":18.5},
{"h":161,"T":31.35,"S":28.1,"O":5.4,"R":-4.9,"r":-4.4,"G":23.9,"g":21.5,"W":18.0,"w":17.2},
{"h":161.5,"R":-5.7,"r":-5.3,"G":22.0,"g":19.6,"W":18.6,"w":19.6},
{"h":162,"T":31.45,"S":28.05,"O":5.9,"R":-6.6,"r":-6.1,"G":20.8,"g":22.6,"W":19.2,"w":18.2},
{"h":162.5,"R":-7.5,"r":-7.0,"G":19.4,"g":17.8,"W":19.8,"w":18.8},
{"h":163,"T":31.2,"S":28.0,"O":6.0,"R":-8.5,"r":-8.0,"G":18.2,"g":16.6,"W":20.2,"w":19.4},
{"h":163.5,"R":-9.2,"r":-8.9,"G":16.5,"g":17.6,"W":20.6,"w":21.8},
{"h":164,"T":30.95,"S":28.0,"O":5.5,"R":-9.7,"G":15.6,"g":17.0,"W":21.0,"w":20.0},
{"h":164.5,"R":-10,"G":16.4,"g":14.8,"W":21.6,"w":20.4},
{"h":165,"T":30.7,"S":28.0,"O":5.1,"R":-10,"G":14.6,"g":15.8,"W":20.8,"w":22.0},
{"h":165.5,"R":-10,"G":15.0,"g":13.8,"W":21.5,"w":22.3},
{"h":166,"T":30.45,"S":28.0,"O":4.8,"R":-10,"G":14.0,"g":15.4,"W":22.0,"w":20.6},
{"h":166.5,"R":-10,"G":13.2,"g":14.8,"W":21.3,"w":22.5},
{"h":167,"T":30.2,"S":28.0,"O":4.5,"R":-10,"G":14.4,"g":13.4,"W":23.5,"w":24.6},
{"h":167.5,"R":-10,"G":12.8,"g":13.8,"W":24.2,"w":25.6},
{"h":168,"T":30.0,"S":28.0,"O":4.3,"R":-10,"G":13.4,"g":14.6,"W":25.0,"w":23.4},
{"h":168.5,"R":-10,"G":14.2,"g":12.8,"W":24.4,"w":26.0},
{"h":169,"T":29.85,"S":28.0,"O":3.8,"R":-10,"G":13.0,"g":14.0,"W":25.6,"w":24.0},
{"h":169.5,"R":-10,"G":14.6,"g":13.2,"W":23.8,"w":25.2},
{"h":170,"T":29.7,"S":27.8,"O":3.3,"R":-10,"G":12.6,"g":13.8,"W":25.0,"w":26.4},
{"h":170.5,"R":-10,"G":13.6,"g":14.8,"W":24.6,"w":23.6},
{"h":171,"T":29.55,"S":27.7,"O":2.9,"R":-10,"G":14.2,"g":12.8,"W":25.8,"w":24.2},
{"h":171.5,"R":-10,"G":12.8,"g":14.0,"W":24.0,"w":26.2},
{"h":172,"T":29.4,"S":27.9,"O":2.6,"R":-10,"G":13.6,"g":14.6,"W":25.4,"w":23.8},
{"h":172.5,"R":-10,"G":14.8,"g":13.2,"W":24.6,"w":26.6},
{"h":173,"T":29.3,"S":27.95,"O":2.3,"R":-10,"G":13.4,"g":14.4,"W":23.6,"w":25.6},
{"h":173.5,"R":-10,"G":14.2,"g":15.2,"W":24.8,"w":26.0},
{"h":174,"T":29.15,"S":27.95,"O":2.1,"R":-9.6,"G":13.8,"g":15.0,"W":25.5,"w":23.5},
{"h":174.5,"R":-8.9,"r":-9.3,"G":15.0,"g":13.6,"W":24.4,"w":26.4},
{"h":175,"T":29.05,"S":27.95,"O":2.0,"R":-7.9,"r":-8.4,"G":14.4,"g":15.8,"W":25.9,"w":24.6},
{"h":175.5,"R":-6.8,"r":-7.4,"G":15.6,"g":14.2,"W":25.0,"w":26.8},
{"h":176,"T":28.95,"S":27.95,"O":2.0,"R":-5.5,"r":-6.2,"G":14.6,"g":15.8,"W":26.2,"w":24.8},
{"h":176.5,"R":-4.4,"r":-4.9,"G":16.0,"g":14.4,"W":25.4,"w":23.8},
{"h":177,"T":29.2,"S":27.95,"O":2.3,"R":-3.2,"r":-3.8,"G":15.2,"g":16.6,"W":24.6,"w":26.0},
{"h":177.5,"R":-2.4,"r":-2.8,"G":14.6,"g":16.0,"W":25.6,"w":23.2},
{"h":178,"T":29.6,"S":28.05,"O":2.8,"R":-1.8,"r":-2.1,"G":16.4,"g":15.0,"W":24.2,"w":26.2},
{"h":178.5,"R":-1.2,"r":-1.5,"G":15.8,"g":17.2,"W":23.6,"w":25.0},
{"h":179,"T":30.1,"S":28.05,"O":3.4,"R":-0.8,"r":-1.0,"G":17.8,"g":16.4,"W":15.2,"w":16.6},
{"h":179.5,"R":-0.6,"r":-0.7,"G":18.8,"g":17.0,"W":16.8,"w":8.7},
{"h":180,"T":30.45,"S":28.05,"O":4.0,"R":-0.4,"r":-0.5,"G":20.4,"g":18.2,"W":15.6,"w":17.0},
{"h":180.5,"R":-0.4,"r":-2.6,"G":21.8,"g":19.5,"W":16.4,"w":11.2},
{"h":181,"T":30.55,"S":28.05,"O":4.3,"R":-1.0,"r":-3.3,"G":22.7,"g":20.4,"W":15.0,"w":16.8},
{"h":181.5,"R":-5.5,"r":-7.0,"G":21.0,"g":19.0,"W":16.2,"w":14.6},
{"h":182,"T":30.5,"S":28.05,"O":4.3,"R":-6.4,"r":-2.5,"G":20.0,"g":18.4,"W":15.4,"w":17.0},
{"h":182.5,"R":-3.0,"r":-7.5,"G":19.2,"g":21.4,"W":14.8,"w":16.2},
{"h":183,"T":30.1,"S":28.05,"O":4.0,"R":-6.0,"r":-6.8,"G":18.0,"g":20.6,"W":16.6,"w":15.2},
{"h":183.5,"R":-7.2,"r":-5.5,"G":19.6,"g":17.4,"W":15.8,"w":14.2},
{"h":184,"T":30.2,"S":28.05,"O":3.8,"R":-6.2,"r":-8.0,"G":17.0,"g":18.6,"W":14.6,"w":16.4},
{"h":184.5,"R":-7.6,"r":-6.6,"G":16.0,"g":17.6,"W":16.0,"w":15.4},
{"h":185,"T":30.3,"S":28.05,"O":4.5,"R":-8.3,"r":-7.0,"G":15.2,"g":16.6,"W":15.0,"w":6.5},
{"h":185.5,"R":-7.8,"r":-8.6,"G":14.4,"g":15.6,"W":5.8,"w":16.2},
{"h":186,"T":30.45,"S":28.05,"O":4.3,"R":-8.5,"r":-7.5,"G":13.2,"g":14.6,"W":15.6,"w":6.6},
{"h":186.5,"R":-9.1,"r":-8.8,"G":12.2,"g":13.4,"W":7.0,"w":1.5},
{"h":187,"T":30.55,"S":27.95,"O":4.5,"R":-9.5,"G":11.4,"g":12.6,"W":33.1,"w":0.6},
{"h":187.5,"R":-10,"G":10.6,"g":11.8,"W":0.0,"w":26.7},
{"h":188,"T":30.75,"S":27.9,"O":4.2,"R":-10,"G":10.2,"g":11.2,"W":0.0,"w":24.5},
{"h":188.5,"R":-10,"G":11.0,"g":10.4,"W":0.1,"w":25.0},
{"h":189,"T":30.55,"S":27.85,"O":3.7,"R":-10,"G":10.6,"g":12.0,"W":23.2,"w":25.4},
{"h":189.5,"R":-10,"G":12.4,"g":11.2,"W":24.6,"w":20.5},
{"h":190,"T":30.35,"S":27.85,"O":3.5,"R":-10,"G":11.8,"g":10.4,"W":23.6,"w":25.2},
{"h":190.5,"R":-10,"G":12.8,"g":11.6,"W":24.2,"w":16.4},
{"h":191,"T":30.25,"S":27.8,"O":3.3,"R":-10,"G":12.2,"g":13.0,"W":25.5,"w":23.4},
{"h":191.5,"R":-10,"G":11.4,"g":12.6,"W":24.0,"w":25.0},
{"h":192,"T":30.2,"S":27.8,"O":3.1,"R":-10,"G":12.8,"g":11.6,"W":23.8,"w":24.6}
],
"hand": [
{"series":"Rain (0.1 in/day)","h":23.1,"v":0},
{"series":"Rain (0.1 in/day)","h":47.0,"v":1.6},
{"series":"Rain (0.1 in/day)","h":71.0,"v":0},
{"series":"Rain (0.1 in/day)","h":95.2,"v":0},
{"series":"Rain (0.1 in/day)","h":119.0,"v":0},
{"series":"Rain (0.1 in/day)","h":142.9,"v":0},
{"series":"Rain (0.1 in/day)","h":166.9,"v":0},
{"series":"Rain (0.1 in/day)","h":190.9,"v":0},
{"series":"Water-Temp (hand)","h":7.75,"v":27.45},
{"series":"Water-Temp (hand)","h":175.4,"v":28.93},
{"series":"Salinity (hand)","h":7.75,"v":27.65},
{"series":"Salinity (hand)","h":175.4,"v":28.1},
{"series":"Error DO (Cont-Hand) (mg/L)","h":7.75,"v":-0.6},
{"series":"Error DO (Cont-Hand) (mg/L)","h":175.4,"v":-1.0},
{"series":"Error Temp (Cont-Hand) ( C )","h":7.75,"v":0.2},
{"series":"Error Temp (Cont-Hand) ( C )","h":175.4,"v":-0.05},
{"series":"Error Salinity (Cont-Hand) (ppt)","h":7.75,"v":1.0},
{"series":"Error Salinity (Cont-Hand) (ppt)","h":175.4,"v":-0.3},
{"series":"DO (hand)","h":7.75,"v":3.4},
{"series":"DO (hand)","h":175.4,"v":2.8}
]
},
"encoding": {
 "x": {"field": "h", "type": "quantitative",
  "scale": {"domain": [0, 192], "nice": false, "zero": false},
  "axis": {"values": [0,12,24,36,48,60,72,84,96,108,120,132,144,156,168,180,192],
   "labelExpr": "datum.value % 48 === 0 ? '8/' + (3 + datum.value / 24) + '/10 0:00' : ''",
   "gridColor": {"condition": {"test": "datum.value % 48 === 0", "value": "#A6A6A6"}, "value": "#D4D4D4"},
   "gridWidth": 1.3,
   "tickOpacity": {"condition": {"test": "datum.value % 48 === 0", "value": 1}, "value": 0},
   "tickColor": "#A6A6A6", "tickSize": 9, "domainColor": "#A6A6A6", "domainWidth": 1.3,
   "labelFont": "Open Sans", "labelFontSize": 24, "labelColor": "#000000", "labelPadding": 10, "labelFlush": false,
   "title": "Date/Time (Eastern Local)", "titleFont": "Open Sans", "titleFontSize": 31, "titleFontWeight": "bold", "titleColor": "#000000", "titlePadding": 14}},
 "y": {"field": "v", "type": "quantitative",
  "scale": {"domain": [-10, 40], "nice": false, "zero": false},
  "axis": {"values": [-10,-9,-8,-7,-6,-5,-4,-3,-2,-1,0,1,2,3,4,5,6,7,8,9,10,11,12,13,14,15,16,17,18,19,20,21,22,23,24,25,26,27,28,29,30,31,32,33,34,35,36,37,38,39,40],
   "labelExpr": "datum.value % 5 === 0 ? '' + datum.value : ''",
   "gridColor": {"condition": {"test": "datum.value % 5 === 0", "value": "#A6A6A6"}, "value": "#D4D4D4"},
   "gridWidth": 1.3,
   "tickOpacity": {"condition": {"test": "datum.value % 5 === 0", "value": 1}, "value": 0},
   "tickColor": "#A6A6A6", "tickSize": 9, "domainColor": "#A6A6A6", "domainWidth": 1.3,
   "labelFont": "Open Sans", "labelFontSize": 24, "labelColor": "#000000", "labelPadding": 10,
   "title": "As  Appropriate", "titleFont": "Open Sans", "titleFontSize": 31, "titleFontWeight": "bold", "titleColor": "#000000", "titlePadding": 14}}
},
"layer": [
 {"data": {"name": "d"}, "transform": [{"fold": ["T"], "as": ["k", "v"]}, {"filter": "isValid(datum.v)"}],
  "mark": {"type": "line", "strokeWidth": 7, "color": "#4069A3"}, "encoding": {}},
 {"data": {"name": "d"}, "transform": [{"fold": ["T"], "as": ["k", "v"]}, {"filter": "isValid(datum.v)"}],
  "mark": {"type": "point", "filled": true, "opacity": 1, "shape": "diamond", "size": 70, "color": "#4069A3"}, "encoding": {}},
 {"data": {"name": "d"}, "transform": [{"fold": ["S"], "as": ["k", "v"]}, {"filter": "isValid(datum.v)"}],
  "mark": {"type": "line", "strokeWidth": 9, "color": "#9B3B39"}, "encoding": {}},
 {"data": {"name": "d"}, "transform": [{"fold": ["S", "s"], "as": ["k", "v"]}, {"filter": "isValid(datum.v)"}],
  "mark": {"type": "point", "filled": true, "opacity": 1, "shape": "square", "size": 100, "color": "#9B3B39"}, "encoding": {}},
 {"data": {"name": "d"}, "transform": [{"fold": ["R", "r"], "as": ["k", "v"]}, {"filter": "isValid(datum.v)"}],
  "mark": {"type": "point", "filled": true, "opacity": 1, "shape": "circle", "size": 62, "color": "#634B83"}, "encoding": {}},
 {"data": {"name": "hand"}, "transform": [{"filter": "datum.series !== 'DO (hand)'"}],
  "mark": {"type": "point", "filled": true, "opacity": 1, "strokeWidth": 2},
  "encoding": {
   "color": {"field": "series", "type": "nominal",
    "scale": {"domain": ["\u00a0Temperature (C )", "\u2002\u00a0Salinity (ppt)", "(Solar Radiation-10) (100*W/m^2)", "Rain (0.1 in/day)", "Water-Temp (hand)", "Salinity (hand)", "Error DO (Cont-Hand) (mg/L)", "Error Temp (Cont-Hand) ( C )", "Error Salinity (Cont-Hand) (ppt)", "\u00a0Wind Direction (10*deg.)", "Download Meter", "(Wind Gust+10) (mph)", "\u2002\u00a0ODO (mg/L)", "DO (hand)"],
     "range": ["#4A7EBB", "#9B3B39", "#634B83", "#000000", "#00B0F0", "#C0504D", "#FF0000", "#FF0000", "#FF0000", "#4A7EBB", "#8064A2", "#FFC000", "#77933C", "#FFC000"]},
    "legend": {"orient": "none", "legendX": 1291, "legendY": 526, "title": null, "labelOffset": 23,
     "encode": {"symbols": {"size": {"value": {"expr": "[30,45,30,400,400,400,330,230,300,45,300,45,320,400][indexof(domain('color'), datum.value)]"}}},
                "labels": {"dx": {"value": {"expr": "14 + [6,17,0,0,0,0,0,0,0,6,0,0,17,0][indexof(domain('color'), datum.value)]"}}}},
     "encoding": {"symbols": {"size": {"value": {"expr": "[30,45,30,400,400,400,330,230,300,45,300,45,320,400][indexof(domain('color'), datum.value)]"}}},
                  "labels": {"dx": {"value": {"expr": "14 + [6,17,0,0,0,0,0,0,0,6,0,0,17,0][indexof(domain('color'), datum.value)]"}}}}}},
   "shape": {"field": "series", "type": "nominal",
    "scale": {"domain": ["\u00a0Temperature (C )", "\u2002\u00a0Salinity (ppt)", "(Solar Radiation-10) (100*W/m^2)", "Rain (0.1 in/day)", "Water-Temp (hand)", "Salinity (hand)", "Error DO (Cont-Hand) (mg/L)", "Error Temp (Cont-Hand) ( C )", "Error Salinity (Cont-Hand) (ppt)", "\u00a0Wind Direction (10*deg.)", "Download Meter", "(Wind Gust+10) (mph)", "\u2002\u00a0ODO (mg/L)", "DO (hand)"],
     "range": ["diamond", "square", "circle", "circle", "circle", "circle", "triangle-up", "diamond", "square", "cross", "square", "triangle-up", "triangle-up", "circle"]}},
   "stroke": {"field": "series", "type": "nominal",
    "scale": {"domain": ["\u00a0Temperature (C )", "\u2002\u00a0Salinity (ppt)", "(Solar Radiation-10) (100*W/m^2)", "Rain (0.1 in/day)", "Water-Temp (hand)", "Salinity (hand)", "Error DO (Cont-Hand) (mg/L)", "Error Temp (Cont-Hand) ( C )", "Error Salinity (Cont-Hand) (ppt)", "\u00a0Wind Direction (10*deg.)", "Download Meter", "(Wind Gust+10) (mph)", "\u2002\u00a0ODO (mg/L)", "DO (hand)"],
     "range": ["#4A7EBB", "#9B3B39", "#634B83", "#31849B", "#9BBB59", "#4BACC6", "#F79646", "#95B3D7", "#D99694", "#4A7EBB", "#8064A2", "#FFC000", "#77933C", "#C0703A"]}},
   "size": {"condition": [
     {"test": "datum.series === 'Rain (0.1 in/day)'", "value": 470},
     {"test": "datum.series === 'Error DO (Cont-Hand) (mg/L)'", "value": 360},
     {"test": "datum.series === 'Error Temp (Cont-Hand) ( C )'", "value": 260},
     {"test": "datum.series === 'Error Salinity (Cont-Hand) (ppt)'", "value": 330}],
    "value": 440}
  }},
 {"data": {"name": "d"}, "transform": [{"fold": ["W", "w"], "as": ["k", "v"]}, {"filter": "isValid(datum.v)"}],
  "mark": {"type": "point", "filled": true, "opacity": 1, "shape": "circle", "size": 46, "color": "#4A7EBB"}, "encoding": {}},
 {"data": {"name": "d"}, "transform": [{"fold": ["G", "g"], "as": ["k", "v"]}, {"filter": "isValid(datum.v)"}],
  "mark": {"type": "point", "filled": true, "opacity": 1, "shape": "triangle-up", "size": 95, "color": "#FFC000"}, "encoding": {}},
 {"data": {"name": "d"}, "transform": [{"fold": ["O"], "as": ["k", "v"]}, {"filter": "isValid(datum.v)"}],
  "mark": {"type": "line", "strokeWidth": 10, "color": "#77933C"}, "encoding": {}},
 {"data": {"name": "d"}, "transform": [{"fold": ["O"], "as": ["k", "v"]}, {"filter": "isValid(datum.v)"}],
  "mark": {"type": "point", "filled": true, "opacity": 1, "shape": "triangle-up", "size": 300, "color": "#77933C"}, "encoding": {}},
 {"data": {"name": "hand"}, "transform": [{"filter": "datum.series === 'DO (hand)'"}],
  "mark": {"type": "point", "filled": true, "opacity": 1, "strokeWidth": 2, "size": 440},
  "encoding": {"color": {"field": "series", "type": "nominal"}, "shape": {"field": "series", "type": "nominal"}, "stroke": {"field": "series", "type": "nominal"}}}
]
}
